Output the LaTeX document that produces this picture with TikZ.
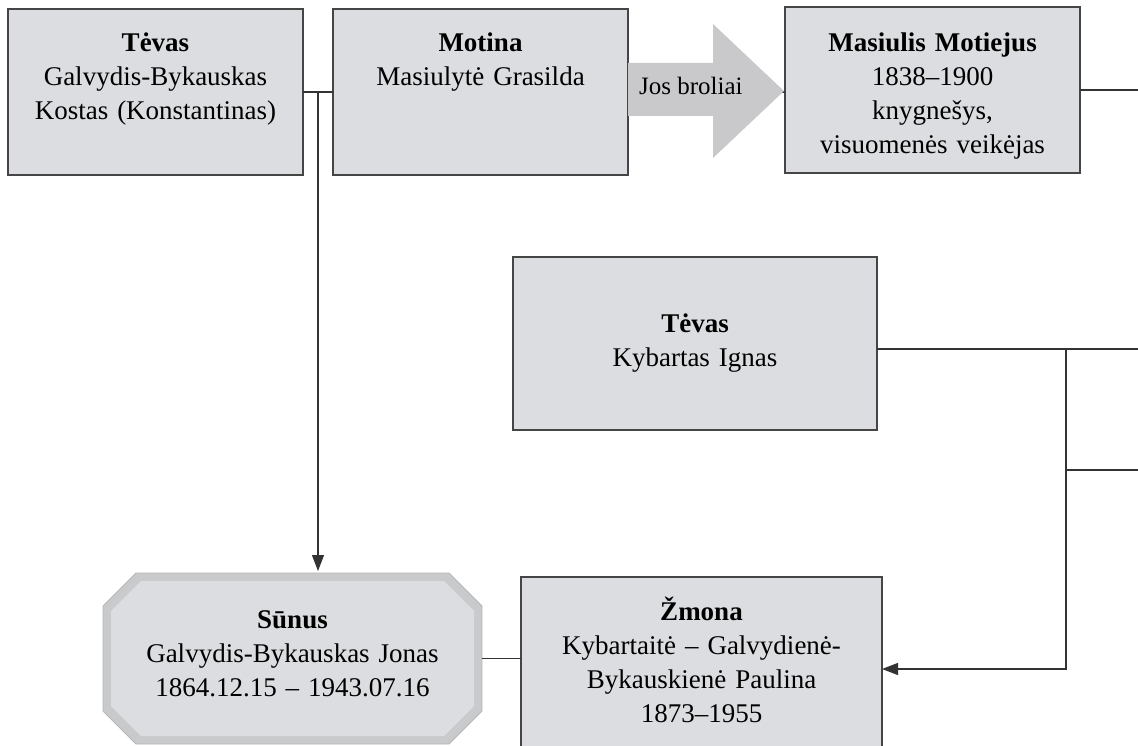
\documentclass[tikz,border=0pt]{standalone}
\usepackage{fontspec}
\setmainfont{Liberation Serif}
\usetikzlibrary{calc,arrows.meta}
\definecolor{boxfill}{HTML}{DCDDE0}
\definecolor{boxline}{HTML}{454545}
\definecolor{arrowfill}{HTML}{C9C9CB}
\definecolor{octout}{HTML}{C9CACC}
\definecolor{octedge}{HTML}{B5B6B8}
\definecolor{linecol}{HTML}{333333}
\tikzset{
  pbox/.style={draw=boxline, fill=boxfill, line width=1.3pt, inner sep=0pt, outer sep=0pt},
  ptext/.style={text width=#1, align=center, anchor=base, inner sep=0pt, font=\fontsize{27}{34}\selectfont},
  conn/.style={draw=linecol, line width=1.2pt},
  tipend/.style={-{Triangle[length=16pt,width=12pt]}}
}
\begin{document}
\begin{tikzpicture}[x=1pt,y=-1pt]
\useasboundingbox (0,0) rectangle (1138,746);
\clip (0,0) rectangle (1138,746);
% boxes
\node[pbox, minimum width=295pt, minimum height=166pt] (f1) at (155.5,92) {};
\node[pbox, minimum width=295pt, minimum height=166pt] (m1) at (480.5,92) {};
\node[pbox, minimum width=295pt, minimum height=166pt] (mm) at (932.5,90) {};
\node[pbox, minimum width=364pt, minimum height=173pt] (f2) at (695,343.5) {};
\node[pbox, minimum width=361pt, minimum height=184pt] (wife) at (701.5,669) {};
\node[inner sep=0pt, outer sep=0pt, minimum width=379pt, minimum height=171pt] (son) at (292.5,658.5) {};
% octagon of the son
\path[fill=octout, draw=octedge, line width=0.8pt]
  (136,573) -- (449,573) -- (482,606) -- (482,711) -- (449,744) -- (136,744) -- (103,711) -- (103,606) -- cycle;
\path[fill=boxfill]
  (141,581) -- (444,581) -- (474,611) -- (474,706) -- (444,736) -- (141,736) -- (111,706) -- (111,611) -- cycle;
% texts
\node[ptext=290pt] (f1t) at (155.5,52) {\textbf{Tėvas}\\Galvydis-Bykauskas\\Kostas (Konstantinas)};
\node[ptext=290pt] (m1t) at (480.5,52) {\textbf{Motina}\\Masiulytė Grasilda};
\node[ptext=290pt] (mmt) at (932.5,52) {\textbf{Masiulis Motiejus}\\1838–1900\\knygnešys,\\visuomenės veikėjas};
\node[ptext=355pt] (f2t) at (695,332) {\textbf{Tėvas}\\Kybartas Ignas};
\node[ptext=355pt] (wifet) at (701.5,620) {\textbf{Žmona}\\Kybartaitė – Galvydienė-\\Bykauskienė Paulina\\1873–1955};
\node[ptext=370pt] (sont) at (292.5,628) {\textbf{Sūnus}\\Galvydis-Bykauskas Jonas\\1864.12.15 – 1943.07.16};
% connectors
\draw[conn] (f1.east) -- (m1.west);
\coordinate (j1) at (318,92);
\draw[conn,tipend] (j1) -- ($(j1 |- son.north)+(0,-2)$);
\draw[conn] (m1.east) -- (m1.east -| mm.west);
% big arrow
\path[fill=arrowfill] (628,63) -- (713,63) -- (713,24) -- (784,91) -- (713,158) -- (713,116) -- (628,116) -- cycle;
\node[anchor=base west, inner sep=0pt, font=\fontsize{25}{30}\selectfont] (lbl) at (639,95) {Jos broliai};
\coordinate (mmr) at (1138,90);
\draw[conn] (mm.east) -- (mmr);
\coordinate (j2) at (1066,349);
\coordinate (r2) at (1138,349);
\draw[conn] (f2.east |- j2) -- (r2);
\draw[conn,tipend] (j2) |- (wife.east);
\coordinate (j3) at (1066,470);
\coordinate (r3) at (1138,470);
\draw[conn] (j3) -- (r3);
\draw[conn] (son.east) -- (son.east -| wife.west);
\end{tikzpicture}
\end{document}
